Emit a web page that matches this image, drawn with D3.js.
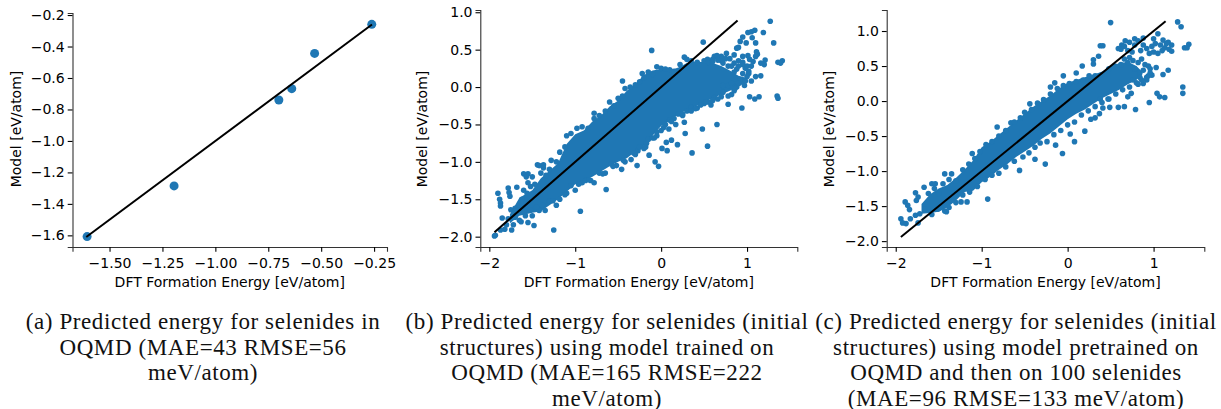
<!DOCTYPE html>
<html><head><meta charset="utf-8">
<script src="https://d3js.org/d3.v7.min.js"></script>
<style>
html,body{margin:0;padding:0;background:#fff}
svg{display:block}
.tick text,.axl{font-family:"DejaVu Sans",sans-serif;fill:#000}
.cap{font-family:"Liberation Serif",serif;fill:#111;text-anchor:middle}
</style></head><body>
<svg id="c" width="1221" height="409"></svg>
<script>
// Panel (a): all points
const pointsA=[[-1.606,-1.608],[-1.195,-1.286],[-0.70,-0.74],[-0.639,-0.668],[-0.531,-0.444],[-0.261,-0.259]];
const lineA=[-1.61,-0.26];
const xTicksA=[-1.5,-1.25,-1,-0.75,-0.5,-0.25];
const yTicksA=[-1.6,-1.4,-1.2,-1,-0.8,-0.6,-0.4,-0.2];

// Panel (b): merged dense band as [x, low, high], then separately visible points
const bandB=[[-1.76,-1.82,-1.70],[-1.65,-1.72,-1.48],[-1.5,-1.68,-1.38],[-1.4,-1.66,-1.22],[-1.3,-1.58,-1.12],[-1.2,-1.5,-1.02],[-1.1,-1.4,-.76],[-1,-1.3,-.63],[-.9,-1.25,-.58],[-.8,-1.2,-.46],[-.7,-1.13,-.38],[-.6,-1.06,-.26],[-.5,-1,-.18],[-.4,-.95,-.05],[-.3,-.86,.04],[-.2,-.78,.16],[-.1,-.65,.22],[0,-.52,.24],[.1,-.45,.22],[.2,-.36,.26],[.3,-.31,.32],[.4,-.26,.34],[.5,-.2,.33],[.6,-.15,.32],[.7,-.1,.28],[.8,-.05,.22],[.9,0,.15],[1,.08,.12]];
const outliersB=[[1.27,.88],[.49,.6],[-.11,.49],[1.31,.59],[1.19,.73],[1.01,.73],[1.05,.74],[1.09,.76],[1.06,.66],[.95,.67],[.92,.61],[.99,.59],[1.1,.59],[.88,.52],[.9,.53],[1.11,.47],[1.1,.41],[1.12,.44],[1.01,.42],[1.41,.35],[1.36,.33],[1.39,.32],[1.21,.36],[1.2,.3],[1.16,.32],[1.07,.34],[1.03,.37],[.95,.41],[.85,.43],[.76,.45],[.7,.41],[.62,.41],[.54,.37],[1.16,.15],[1.1,.14],[1.02,.21],[.97,.02],[1.02,.18],[1.35,-.12],[1.36,-.15],[1.14,-.13],[1.09,-.16],[1.03,-.13],[.94,-.28],[.78,-.23],[.58,-.24],[.65,-.5],[.48,-.56],[.54,-.79],[.36,-.88],[.28,-.62],[.27,-.47],[.19,-.77],[.12,-.71],[.06,-.74],[.07,-.85],[.01,-.82],[.17,-.5],[.09,-.56],[-.05,-.65],[-.17,-.75],[-.14,-.91],[-.27,-.85],[-.07,-1],[-.03,-1.06],[-.28,-1.05],[-.64,-1.37],[-.94,-1.66],[-1.25,-1.91],[-1.48,-1.85],[-1.55,-1.81],[-1.63,-1.8],[-1.94,-1.99],[-1.93,-1.98],[-1.74,-1.91],[-1.82,-1.9],[-1.87,-1.91],[-1.85,-1.75],[-1.9,-1.42],[-1.88,-1.5],[-1.87,-1.55],[-1.87,-1.59],[-1.78,-1.35],[-1.77,-1.41],[-1.76,-1.46],[-1.68,-1.34],[-1.6,-1.16],[-1.55,-1.16],[-1.44,-1.04],[-1.37,-1.04],[-.45,.08]];
const upperB=[[-1.75,-1.64],[-1.7,-1.62],[-1.66,-1.64],[-1.62,-1.5],[-1.6,-1.38],[-1.57,-1.2],[-1.55,-1.28],[-1.52,-1.33],[-1.5,-1.2],[-1.47,-1.3],[-1.42,-1.05],[-1.4,-1.15],[-1.37,-1.08],[-1.3,-1.1],[-1.28,-.98],[-1.22,-1],[-1.18,-.87],[-1.12,-.8],[-1.1,-.65],[-1.05,-.62],[-.98,-.55],[-.92,-.53],[-.85,-.55],[-.78,-.42],[-.78,-.35],[-.72,-.38],[-.65,-.32],[-.6,-.2],[-.55,-.25],[-.5,-.15],[-.45,-.12],[-.42,-.02],[-.36,0],[-.3,.03],[-.25,.07],[-.22,.18],[-.2,.12],[-.15,.2],[-.1,.17],[-.05,.27],[0,.25],[.05,.24],[.1,.23],[.15,.21],[.22,.3],[.27,.4],[.3,.37],[.35,.35],[.42,.33],[.5,.35],[.55,.33],[.6,.37],[.65,.42],[.7,.35],[.75,.38],[.8,.38],[.85,.32],[.9,.35],[.95,.33]];
const lowerB=[[-1.72,-1.84],[-1.65,-1.78],[-1.58,-1.72],[-1.5,-1.72],[-1.42,-1.65],[-1.35,-1.65],[-1.3,-1.52],[-1.22,-1.58],[-1.18,-1.5],[-1.1,-1.42],[-1.05,-1.32],[-1,-1.38],[-.92,-1.28],[-.88,-1.25],[-.82,-1.25],[-.78,-1.28],[-.72,-1.15],[-.65,-1.15],[-.58,-1.03],[-.52,-1.05],[-.46,-1.1],[-.42,-1],[-.35,-.97],[-.3,-.9],[-.25,-.8],[-.2,-.82],[-.15,-.7],[-.1,-.68],[-.05,-.6],[0,-.58],[.05,-.5],[.1,-.44],[.15,-.42],[.2,-.36],[.25,-.38],[.3,-.32],[.35,-.27],[.42,-.28],[.5,-.22],[.55,-.2],[.62,-.14],[.7,-.13],[.72,-.07],[.78,-.12],[.82,-.1],[.85,-.05],[.88,0],[.92,.1],[.98,.08],[1,.14],[1.05,.08],[.95,.18],[.88,.24],[.82,.28],[.98,.25],[1.05,.28]];
const rightB=[[.95,.3],[1,.28],[.9,.28],[.85,.2],[.78,.28],[.72,.32],[.66,.36],[.6,.34],[.72,.02],[.78,.02],[.82,.05],[.9,.05],[.86,-.02],[.66,-.16],[.6,-.18],[.52,-.2],[.46,-.24],[.4,-.29],[.35,-.32],[.25,-.36],[.12,-.46],[.03,-.54],[-.08,-.68],[-.18,-.8],[-.32,-.88],[-.44,-.98],[-.56,-1.06],[-.68,-1.16],[-.84,-1.24],[-.96,-1.3],[-1.12,-1.44],[-1.26,-1.52],[-1.38,-1.58],[-1.45,-1.6],[-1.52,-1.64],[-1.6,-1.66],[-1.7,-1.74],[-1.78,-1.76],[-1.8,-1.84],[-1.34,-1.18],[-1.46,-1.4],[-1.56,-1.42],[-1.62,-1.58],[-1.7,-1.66]];
const lineB=[-1.94,0.89];
const xTicksB=[-2,-1,0,1];
const yTicksB=[-2,-1.5,-1,-0.5,0,0.5,1];

// Panel (c): merged dense band, then separately visible points
const bandC=[[-1.7,-1.61,-1.47],[-1.6,-1.6,-1.33],[-1.5,-1.58,-1.25],[-1.4,-1.52,-1.2],[-1.3,-1.42,-1.1],[-1.2,-1.3,-.98],[-1.1,-1.28,-.85],[-1,-1.16,-.66],[-.9,-1.08,-.58],[-.8,-.98,-.48],[-.7,-.9,-.38],[-.6,-.8,-.28],[-.5,-.72,-.18],[-.4,-.64,-.08],[-.3,-.54,0],[-.2,-.46,.08],[-.1,-.36,.18],[0,-.26,.26],[.1,-.18,.3],[.2,-.12,.34],[.3,-.04,.38],[.4,.04,.42],[.5,.1,.5],[.6,.16,.54],[.7,.24,.56],[.8,.3,.5],[.85,.36,.44]];
const outliersC=[[.5,1.12],[1.28,1.13],[1.32,1.06],[1.41,.81],[1.36,.76],[1.39,.76],[1.21,.8],[1.21,.71],[1.17,.84],[1.11,.87],[1.05,.96],[1,.89],[.88,.9],[.78,.89],[.67,.86],[.63,.8],[.59,.75],[.38,.79],[.41,.79],[.36,.64],[.3,.59],[.3,.53],[.17,.5],[.1,.4],[-.05,.36],[1.17,.44],[1.11,.38],[1.03,.48],[.96,.46],[.98,.37],[1.34,.2],[1.34,.11],[1.13,.05],[1.07,.06],[1.04,.11],[.95,-.02],[.79,-.12],[.66,-.08],[.7,.06],[.74,.11],[.82,.24],[.59,-.09],[.49,-.09],[.41,-.1],[.47,.03],[.38,.03],[.37,-.18],[.32,-.24],[.27,-.26],[.2,-.43],[.08,-.58],[.03,-.47],[-.06,-.75],[-.14,-.63],[-.26,-.9],[-.38,-.83],[-.56,-.99],[-.93,-1.4],[-1.17,-1.44],[-1.24,-1.44],[-1.41,-1.58],[-.82,-.37],[-1.11,-.75],[-.66,-.31],[-.44,-.04],[-.2,.2],[-.15,.26],[-1.94,-1.68],[-1.92,-1.74],[-1.88,-1.75],[-1.83,-1.68],[-1.89,-1.44],[-1.86,-1.49],[-1.84,-1.55],[-1.77,-1.31],[-1.74,-1.37],[-1.76,-1.42],[-1.67,-1.23],[-1.58,-1.18],[-1.54,-1.18],[-1.43,-1.04],[-1.35,-1.04],[-1.74,-1.74],[-1.77,-1.63],[-1.72,-1.61],[-1.66,-1.54],[-1.43,-1.57],[-1.51,-1.54]];
const clusterC=[[.62,.74],[.66,.78],[.7,.72],[.72,.84],[.75,.7],[.78,.8],[.82,.86],[.85,.72],[.88,.8],[.92,.75],[.95,.68],[.98,.78],[1,.7],[1.02,.82],[1.05,.68],[1.08,.8],[1.1,.72],[1.13,.76],[1.15,.82],[1.18,.74],[.72,.62],[.76,.58],[.82,.55],[.86,.6],[.9,.52],[.94,.5],[.7,.55],[.78,.46],[.84,.4],[.88,.44],[.66,.6],[.92,.3],[.88,.25],[.84,.34],[.76,.3],[.94,.36]];
const edgeC=[[-1.62,-1.32],[-1.55,-1.25],[-1.5,-1.32],[-1.45,-1.18],[-1.38,-1.12],[-1.3,-1.14],[-1.22,-.98],[-1.15,-.9],[-1.08,-.82],[-1.02,-.72],[-.95,-.62],[-.88,-.58],[-.8,-.5],[-.72,-.42],[-.62,-.3],[-.55,-.24],[-.5,-.16],[-.42,-.12],[-.35,-.03],[-.28,.02],[-.2,.1],[-.12,.18],[-.05,.22],[.02,.25],[.1,.28],[.18,.3],[.25,.36],[.32,.36],[.4,.38],[.48,.46],[.55,.5],[.62,.52],[-1.58,-1.62],[-1.48,-1.52],[-1.38,-1.52],[-1.3,-1.45],[-1.22,-1.34],[-1.14,-1.3],[-1.05,-1.22],[-.96,-1.12],[-.88,-1.06],[-.8,-1.03],[-.72,-.94],[-.62,-.86],[-.52,-.8],[-.45,-.74],[-.38,-.66],[-.32,-.6],[-.24,-.58],[-.16,-.48],[-.08,-.42],[0,-.34],[.08,-.3],[.16,-.2],[.24,-.14],[.32,-.08],[.4,-.02],[.48,.03],[.56,.1],[.64,.16],[.72,.2],[.8,.26],[.86,.3],[.92,.34],[.96,.4]];
const lineC=[-1.94,1.14];
const xTicksC=[-2,-1,0,1];
const yTicksC=[-2,-1.5,-1,-0.5,0,0.5,1];

// Captions
const capA=["(a) Predicted energy for selenides in","OQMD (MAE=43 RMSE=56","meV/atom)"];
const capB=["(b) Predicted energy for selenides (initial","structures) using model trained on","OQMD (MAE=165 RMSE=222","meV/atom)"];
const capC=["(c) Predicted energy for selenides (initial","structures) using model pretrained on","OQMD and then on 100 selenides","(MAE=96 RMSE=133 meV/atom)"];
const xLabel="DFT Formation Energy [eV/atom]", yLabel="Model [eV/atom]";

const BLUE="#1f77b4", svg=d3.select("#c");
const fmt=(t,d)=>d3.format("."+d+"f")(t).replace("-","\u2212");

function panel(o){
  const g=svg.append("g");
  const x=d3.scaleLinear().domain(o.xd).range(o.xr);
  const y=d3.scaleLinear().domain(o.yd).range(o.yr);
  if(o.band) g.append("path").datum(o.band).attr("fill",BLUE)
    .attr("d",d3.area().x(d=>x(d[0])).y0(d=>y(d[1])).y1(d=>y(d[2])));
  g.selectAll("circle").data(o.points).join("circle")
    .attr("cx",d=>x(d[0])).attr("cy",d=>y(d[1])).attr("r",o.r).attr("fill",BLUE);
  g.append("line").attr("x1",x(o.line[0])).attr("y1",y(o.line[0])).attr("x2",x(o.line[1])).attr("y2",y(o.line[1]))
    .attr("stroke","#000").attr("stroke-width",2);
  const ax=g.append("g").attr("transform",`translate(0,${o.yr[0]})`)
    .call(d3.axisBottom(x).tickValues(o.xt).tickFormat(t=>fmt(t,o.xf)).tickSizeOuter(0).tickSize(4.8).tickPadding(6));
  const ay=g.append("g").attr("transform",`translate(${o.xr[0]},0)`)
    .call(d3.axisLeft(y).tickValues(o.yt).tickFormat(t=>fmt(t,1)).tickSizeOuter(0).tickSize(4.8).tickPadding(3));
  [ax,ay].forEach(a=>{
    a.selectAll("path").attr("stroke","#333").attr("stroke-width",1.1);
    a.selectAll("line").attr("stroke","#000").attr("stroke-width",1.1);
    a.selectAll("text").attr("font-size",14);
  });
  g.append("text").attr("class","axl").attr("font-size",14).attr("text-anchor","middle")
    .attr("x",(o.xr[0]+o.xr[1])/2).attr("y",287).text(xLabel);
  g.append("text").attr("class","axl").attr("font-size",14).attr("text-anchor","middle")
    .attr("transform",`translate(${o.ylx},129) rotate(-90)`).text(yLabel);
  o.cap.forEach((t,i)=>g.append("text").attr("class","cap").attr("font-size",23).attr("letter-spacing",0.6)
    .attr("x",o.capx).attr("y",329+i*25.5).text(t));
}
panel({xd:[-1.675,-0.189],xr:[72.5,387],yd:[-1.674,-0.187],yr:[247,13],points:pointsA,r:4.5,line:lineA,xt:xTicksA,yt:yTicksA,xf:2,ylx:21,cap:capA,capx:203});
panel({xd:[-2.105,1.585],xr:[480.3,797.3],yd:[-2.138,1.03],yr:[247,10],band:bandB,points:[...outliersB,...upperB,...lowerB,...rightB],r:2.8,line:lineB,xt:xTicksB,yt:yTicksB,xf:0,ylx:427,cap:capB,capx:607});
panel({xd:[-2.105,1.59],xr:[886.7,1204.3],yd:[-2.084,1.3],yr:[247,10],band:bandC,points:[...outliersC,...clusterC,...edgeC],r:2.8,line:lineC,xt:xTicksC,yt:yTicksC,xf:0,ylx:834,cap:capC,capx:1016});
</script></body></html>
